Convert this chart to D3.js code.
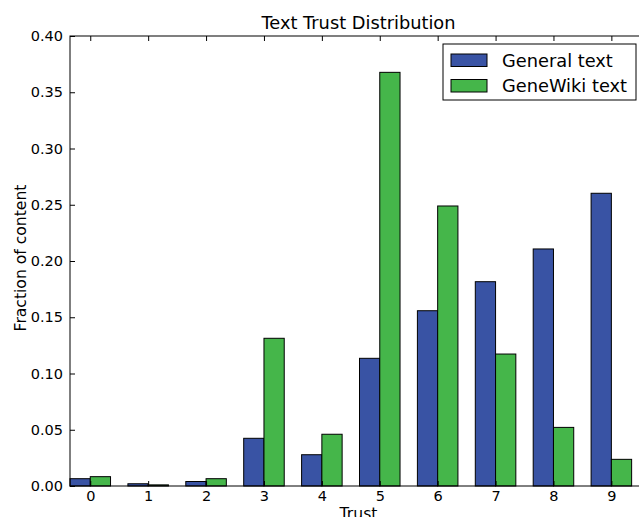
<!DOCTYPE html>
<html><head><meta charset="utf-8">
<script src="https://cdn.jsdelivr.net/npm/d3@7"></script>
<style>
html,body{margin:0;padding:0;background:#fff;}
svg{display:block;font-family:"DejaVu Sans",sans-serif;}
</style></head>
<body><svg id="chart" width="639" height="517"></svg>
<script>
const categories = ["0","1","2","3","4","5","6","7","8","9"];
const generalText = [0.0065,0.002,0.004,0.0424,0.0278,0.1135,0.1558,0.1816,0.2107,0.2602];
const geneWikiText = [0.0083,0.001,0.0065,0.1313,0.046,0.3677,0.2489,0.1173,0.0521,0.0237];
const yTicks = [0,0.05,0.10,0.15,0.20,0.25,0.30,0.35,0.40];
const seriesNames = ["General text","GeneWiki text"];
const colors = ["#3953a4","#45b64a"];
const barWidth = 0.35;

const svg = d3.select("#chart");
const L=70, T=36, B=486, R=649;
const x = d3.scaleLinear().domain([0,10]).range([L,R]);
const y = d3.scaleLinear().domain([0,0.4]).range([B,T]);

const g = svg.append("g");
const series = [generalText, geneWikiText];
series.forEach((vals,si)=>{
  g.selectAll(".bar"+si).data(vals).enter().append("rect")
    .attr("x",(d,i)=>x(i+si*barWidth))
    .attr("y",d=>y(d))
    .attr("width",(d,i)=>x(i+barWidth)-x(i))
    .attr("height",d=>y(0)-y(d))
    .attr("fill",colors[si])
    .attr("stroke","#000").attr("stroke-width",1);
});

// frame
svg.append("rect").attr("x",L).attr("y",T).attr("width",R-L).attr("height",B-T)
  .attr("fill","none").attr("stroke","#000").attr("stroke-width",1);

const tickPos = categories.map((c,i)=>i+barWidth);
const xAxis = d3.axisBottom(x).tickValues(tickPos).tickFormat((d,i)=>categories[i])
  .tickSizeInner(-5).tickSizeOuter(0).tickPadding(5);
const xa = svg.append("g").attr("transform",`translate(0,${B})`).call(xAxis);
xa.select(".domain").remove();
xa.selectAll("text").attr("font-size",14.5).attr("font-family","DejaVu Sans").attr("fill","#000");

const xTop = d3.axisTop(x).tickValues(tickPos).tickFormat("").tickSizeInner(-5).tickSizeOuter(0);
const xt = svg.append("g").attr("transform",`translate(0,${T})`).call(xTop);
xt.select(".domain").remove();

const yAxis = d3.axisLeft(y).tickValues(yTicks).tickFormat(d3.format(".2f"))
  .tickSizeInner(-5).tickSizeOuter(0).tickPadding(7);
const ya = svg.append("g").attr("transform",`translate(${L},0)`).call(yAxis);
ya.select(".domain").remove();
ya.selectAll("text").attr("font-size",14.5).attr("font-family","DejaVu Sans").attr("fill","#000");

const yRight = d3.axisRight(y).tickValues(yTicks).tickFormat("").tickSizeInner(-5).tickSizeOuter(0);
const yr = svg.append("g").attr("transform",`translate(${R},0)`).call(yRight);
yr.select(".domain").remove();

// title
svg.append("text").attr("x",(L+R)/2 - 1).attr("y",29).attr("text-anchor","middle")
  .attr("font-size",17.8).text("Text Trust Distribution");
// axis labels
svg.append("text").attr("transform",`translate(26,${(T+B)/2 - 3}) rotate(-90)`)
  .attr("text-anchor","middle").attr("font-size",15.6).text("Fraction of content");
svg.append("text").attr("x",(L+R)/2 - 1).attr("y",519).attr("text-anchor","middle")
  .attr("font-size",15.6).text("Trust");

// legend
const lg = svg.append("g");
lg.append("rect").attr("x",443).attr("y",44).attr("width",193).attr("height",56)
  .attr("fill","#fff").attr("stroke","#000").attr("stroke-width",1);
seriesNames.forEach((n,i)=>{
  const yy = 54 + i*25.5;
  lg.append("rect").attr("x",451).attr("y",yy).attr("width",36).attr("height",12.5)
    .attr("fill",colors[i]).attr("stroke","#000").attr("stroke-width",1);
  lg.append("text").attr("x",502).attr("y",yy+12.5).attr("font-size",17.8).text(n);
});
</script></body></html>
